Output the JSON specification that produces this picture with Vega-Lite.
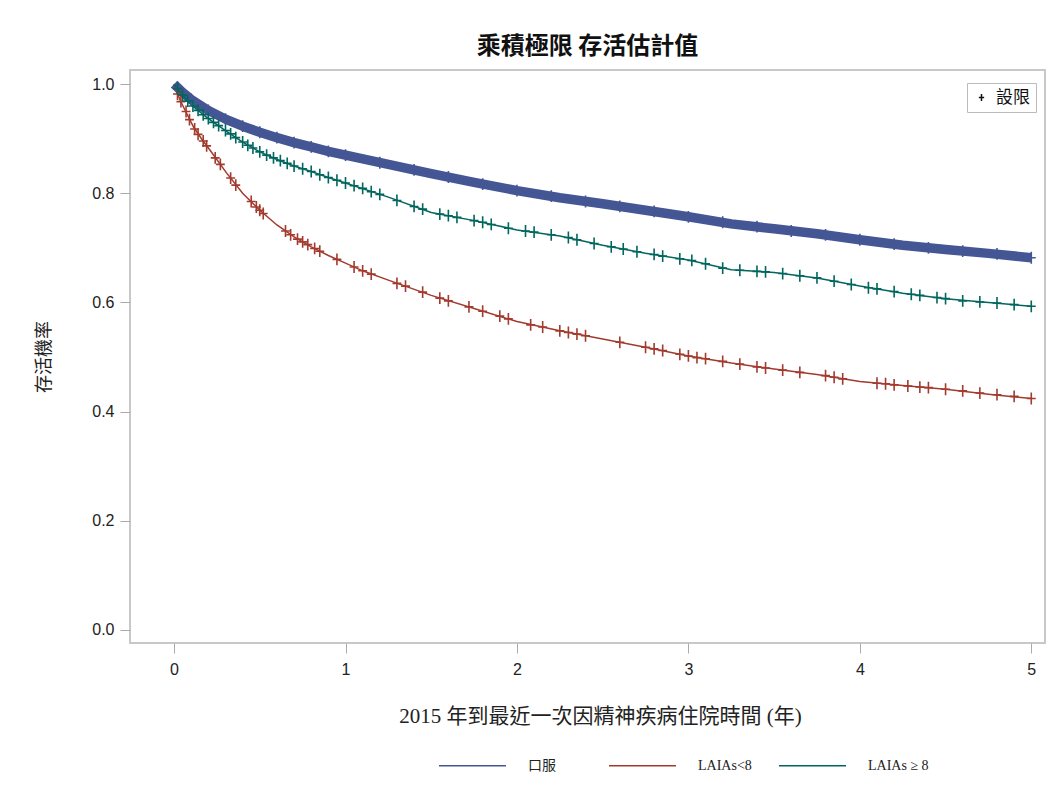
{
  "$schema": "https://vega.github.io/schema/vega-lite/v6.json",
  "width": 915,
  "height": 573,
  "autosize": {"type": "none"},
  "padding": {"left": 130, "top": 70, "right": 11, "bottom": 156},
  "background": "white",
  "config": {
    "view": {"stroke": "#c8c8c8", "strokeWidth": 2},
    "font": "Liberation Sans"
  },
  "title": {
    "text": "乘積極限 存活估計值",
    "font": "Noto Sans CJK TC",
    "fontSize": 24,
    "fontWeight": "bold",
    "color": "#111",
    "offset": 11
  },
  "datasets": {
    "curves": [
      {"group": "口服", "t": 0, "s": 1.0},
      {"group": "口服", "t": 0.05, "s": 0.985},
      {"group": "口服", "t": 0.1, "s": 0.972},
      {"group": "口服", "t": 0.2, "s": 0.952},
      {"group": "口服", "t": 0.3, "s": 0.936},
      {"group": "口服", "t": 0.4, "s": 0.923},
      {"group": "口服", "t": 0.5, "s": 0.912},
      {"group": "口服", "t": 0.6, "s": 0.902},
      {"group": "口服", "t": 0.7, "s": 0.893},
      {"group": "口服", "t": 0.8, "s": 0.885},
      {"group": "口服", "t": 0.9, "s": 0.877},
      {"group": "口服", "t": 1.0, "s": 0.870},
      {"group": "口服", "t": 1.25, "s": 0.853},
      {"group": "口服", "t": 1.5, "s": 0.836},
      {"group": "口服", "t": 1.75, "s": 0.820},
      {"group": "口服", "t": 2.0, "s": 0.805},
      {"group": "口服", "t": 2.25, "s": 0.792},
      {"group": "口服", "t": 2.5, "s": 0.781},
      {"group": "口服", "t": 2.75, "s": 0.769},
      {"group": "口服", "t": 3.0, "s": 0.757},
      {"group": "口服", "t": 3.25, "s": 0.744},
      {"group": "口服", "t": 3.5, "s": 0.735},
      {"group": "口服", "t": 3.75, "s": 0.726},
      {"group": "口服", "t": 4.0, "s": 0.715},
      {"group": "口服", "t": 4.25, "s": 0.705},
      {"group": "口服", "t": 4.5, "s": 0.697},
      {"group": "口服", "t": 4.75, "s": 0.690},
      {"group": "口服", "t": 5.0, "s": 0.682},
      {"group": "LAIAs<8", "t": 0, "s": 1.0},
      {"group": "LAIAs<8", "t": 0.035, "s": 0.971},
      {"group": "LAIAs<8", "t": 0.06, "s": 0.955},
      {"group": "LAIAs<8", "t": 0.113, "s": 0.922},
      {"group": "LAIAs<8", "t": 0.16, "s": 0.900},
      {"group": "LAIAs<8", "t": 0.21, "s": 0.879},
      {"group": "LAIAs<8", "t": 0.307, "s": 0.837},
      {"group": "LAIAs<8", "t": 0.4, "s": 0.800},
      {"group": "LAIAs<8", "t": 0.5, "s": 0.769},
      {"group": "LAIAs<8", "t": 0.6, "s": 0.742},
      {"group": "LAIAs<8", "t": 0.7, "s": 0.720},
      {"group": "LAIAs<8", "t": 0.8, "s": 0.702},
      {"group": "LAIAs<8", "t": 0.9, "s": 0.686},
      {"group": "LAIAs<8", "t": 1.0, "s": 0.672},
      {"group": "LAIAs<8", "t": 1.1, "s": 0.658},
      {"group": "LAIAs<8", "t": 1.25, "s": 0.641},
      {"group": "LAIAs<8", "t": 1.5, "s": 0.613},
      {"group": "LAIAs<8", "t": 1.75, "s": 0.589},
      {"group": "LAIAs<8", "t": 2.0, "s": 0.565},
      {"group": "LAIAs<8", "t": 2.25, "s": 0.548},
      {"group": "LAIAs<8", "t": 2.5, "s": 0.533},
      {"group": "LAIAs<8", "t": 2.75, "s": 0.518},
      {"group": "LAIAs<8", "t": 3.0, "s": 0.502},
      {"group": "LAIAs<8", "t": 3.25, "s": 0.489},
      {"group": "LAIAs<8", "t": 3.5, "s": 0.478},
      {"group": "LAIAs<8", "t": 3.75, "s": 0.468},
      {"group": "LAIAs<8", "t": 4.0, "s": 0.455},
      {"group": "LAIAs<8", "t": 4.25, "s": 0.448},
      {"group": "LAIAs<8", "t": 4.5, "s": 0.441},
      {"group": "LAIAs<8", "t": 4.75, "s": 0.432},
      {"group": "LAIAs<8", "t": 5.0, "s": 0.424},
      {"group": "LAIAs ≥ 8", "t": 0, "s": 1.0},
      {"group": "LAIAs ≥ 8", "t": 0.05, "s": 0.980},
      {"group": "LAIAs ≥ 8", "t": 0.1, "s": 0.962},
      {"group": "LAIAs ≥ 8", "t": 0.2, "s": 0.937},
      {"group": "LAIAs ≥ 8", "t": 0.3, "s": 0.915},
      {"group": "LAIAs ≥ 8", "t": 0.4, "s": 0.894},
      {"group": "LAIAs ≥ 8", "t": 0.5, "s": 0.876},
      {"group": "LAIAs ≥ 8", "t": 0.6, "s": 0.862},
      {"group": "LAIAs ≥ 8", "t": 0.7, "s": 0.850},
      {"group": "LAIAs ≥ 8", "t": 0.8, "s": 0.840},
      {"group": "LAIAs ≥ 8", "t": 0.9, "s": 0.829},
      {"group": "LAIAs ≥ 8", "t": 1.0, "s": 0.819},
      {"group": "LAIAs ≥ 8", "t": 1.25, "s": 0.793},
      {"group": "LAIAs ≥ 8", "t": 1.5, "s": 0.765},
      {"group": "LAIAs ≥ 8", "t": 1.75, "s": 0.750},
      {"group": "LAIAs ≥ 8", "t": 2.0, "s": 0.733},
      {"group": "LAIAs ≥ 8", "t": 2.25, "s": 0.722},
      {"group": "LAIAs ≥ 8", "t": 2.5, "s": 0.705},
      {"group": "LAIAs ≥ 8", "t": 2.75, "s": 0.690},
      {"group": "LAIAs ≥ 8", "t": 3.0, "s": 0.678},
      {"group": "LAIAs ≥ 8", "t": 3.25, "s": 0.660},
      {"group": "LAIAs ≥ 8", "t": 3.5, "s": 0.655},
      {"group": "LAIAs ≥ 8", "t": 3.75, "s": 0.645},
      {"group": "LAIAs ≥ 8", "t": 4.0, "s": 0.630},
      {"group": "LAIAs ≥ 8", "t": 4.25, "s": 0.617},
      {"group": "LAIAs ≥ 8", "t": 4.5, "s": 0.607},
      {"group": "LAIAs ≥ 8", "t": 4.75, "s": 0.600},
      {"group": "LAIAs ≥ 8", "t": 5.0, "s": 0.593}
    ],
    "censor": [
      {"group": "口服", "status": "設限", "t": 0.02, "s": 0.994},
      {"group": "口服", "status": "設限", "t": 0.1, "s": 0.972},
      {"group": "口服", "status": "設限", "t": 0.2, "s": 0.952},
      {"group": "口服", "status": "設限", "t": 0.3, "s": 0.936},
      {"group": "口服", "status": "設限", "t": 0.4, "s": 0.923},
      {"group": "口服", "status": "設限", "t": 0.5, "s": 0.912},
      {"group": "口服", "status": "設限", "t": 0.6, "s": 0.902},
      {"group": "口服", "status": "設限", "t": 0.7, "s": 0.893},
      {"group": "口服", "status": "設限", "t": 0.8, "s": 0.885},
      {"group": "口服", "status": "設限", "t": 0.9, "s": 0.877},
      {"group": "口服", "status": "設限", "t": 1.0, "s": 0.870},
      {"group": "口服", "status": "設限", "t": 1.2, "s": 0.856},
      {"group": "口服", "status": "設限", "t": 1.4, "s": 0.843},
      {"group": "口服", "status": "設限", "t": 1.6, "s": 0.830},
      {"group": "口服", "status": "設限", "t": 1.8, "s": 0.817},
      {"group": "口服", "status": "設限", "t": 2.0, "s": 0.805},
      {"group": "口服", "status": "設限", "t": 2.2, "s": 0.795},
      {"group": "口服", "status": "設限", "t": 2.4, "s": 0.785},
      {"group": "口服", "status": "設限", "t": 2.6, "s": 0.776},
      {"group": "口服", "status": "設限", "t": 2.8, "s": 0.767},
      {"group": "口服", "status": "設限", "t": 3.0, "s": 0.757},
      {"group": "口服", "status": "設限", "t": 3.2, "s": 0.747},
      {"group": "口服", "status": "設限", "t": 3.4, "s": 0.739},
      {"group": "口服", "status": "設限", "t": 3.6, "s": 0.731},
      {"group": "口服", "status": "設限", "t": 3.8, "s": 0.724},
      {"group": "口服", "status": "設限", "t": 4.0, "s": 0.715},
      {"group": "口服", "status": "設限", "t": 4.2, "s": 0.707},
      {"group": "口服", "status": "設限", "t": 4.4, "s": 0.700},
      {"group": "口服", "status": "設限", "t": 4.6, "s": 0.694},
      {"group": "口服", "status": "設限", "t": 4.8, "s": 0.689},
      {"group": "口服", "status": "設限", "t": 5.0, "s": 0.682},
      {"group": "LAIAs<8", "status": "設限", "t": 0.02, "s": 0.982},
      {"group": "LAIAs<8", "status": "設限", "t": 0.04, "s": 0.968},
      {"group": "LAIAs<8", "status": "設限", "t": 0.07, "s": 0.950},
      {"group": "LAIAs<8", "status": "設限", "t": 0.09, "s": 0.935},
      {"group": "LAIAs<8", "status": "設限", "t": 0.12, "s": 0.918},
      {"group": "LAIAs<8", "status": "設限", "t": 0.14, "s": 0.908},
      {"group": "LAIAs<8", "status": "設限", "t": 0.17, "s": 0.896},
      {"group": "LAIAs<8", "status": "設限", "t": 0.19, "s": 0.887},
      {"group": "LAIAs<8", "status": "設限", "t": 0.24, "s": 0.865},
      {"group": "LAIAs<8", "status": "設限", "t": 0.27, "s": 0.853},
      {"group": "LAIAs<8", "status": "設限", "t": 0.33, "s": 0.828},
      {"group": "LAIAs<8", "status": "設限", "t": 0.36, "s": 0.815},
      {"group": "LAIAs<8", "status": "設限", "t": 0.45, "s": 0.785},
      {"group": "LAIAs<8", "status": "設限", "t": 0.48, "s": 0.775},
      {"group": "LAIAs<8", "status": "設限", "t": 0.5, "s": 0.769},
      {"group": "LAIAs<8", "status": "設限", "t": 0.52, "s": 0.763},
      {"group": "LAIAs<8", "status": "設限", "t": 0.65, "s": 0.731},
      {"group": "LAIAs<8", "status": "設限", "t": 0.68, "s": 0.724},
      {"group": "LAIAs<8", "status": "設限", "t": 0.72, "s": 0.716},
      {"group": "LAIAs<8", "status": "設限", "t": 0.75, "s": 0.711},
      {"group": "LAIAs<8", "status": "設限", "t": 0.78, "s": 0.706},
      {"group": "LAIAs<8", "status": "設限", "t": 0.82, "s": 0.699},
      {"group": "LAIAs<8", "status": "設限", "t": 0.85, "s": 0.694},
      {"group": "LAIAs<8", "status": "設限", "t": 0.95, "s": 0.679},
      {"group": "LAIAs<8", "status": "設限", "t": 1.05, "s": 0.665},
      {"group": "LAIAs<8", "status": "設限", "t": 1.1, "s": 0.658},
      {"group": "LAIAs<8", "status": "設限", "t": 1.15, "s": 0.652},
      {"group": "LAIAs<8", "status": "設限", "t": 1.3, "s": 0.635},
      {"group": "LAIAs<8", "status": "設限", "t": 1.35, "s": 0.630},
      {"group": "LAIAs<8", "status": "設限", "t": 1.45, "s": 0.619},
      {"group": "LAIAs<8", "status": "設限", "t": 1.55, "s": 0.608},
      {"group": "LAIAs<8", "status": "設限", "t": 1.6, "s": 0.603},
      {"group": "LAIAs<8", "status": "設限", "t": 1.72, "s": 0.592},
      {"group": "LAIAs<8", "status": "設限", "t": 1.8, "s": 0.584},
      {"group": "LAIAs<8", "status": "設限", "t": 1.9, "s": 0.575},
      {"group": "LAIAs<8", "status": "設限", "t": 1.95, "s": 0.570},
      {"group": "LAIAs<8", "status": "設限", "t": 2.08, "s": 0.559},
      {"group": "LAIAs<8", "status": "設限", "t": 2.15, "s": 0.555},
      {"group": "LAIAs<8", "status": "設限", "t": 2.25, "s": 0.548},
      {"group": "LAIAs<8", "status": "設限", "t": 2.3, "s": 0.545},
      {"group": "LAIAs<8", "status": "設限", "t": 2.35, "s": 0.542},
      {"group": "LAIAs<8", "status": "設限", "t": 2.4, "s": 0.539},
      {"group": "LAIAs<8", "status": "設限", "t": 2.6, "s": 0.527},
      {"group": "LAIAs<8", "status": "設限", "t": 2.75, "s": 0.518},
      {"group": "LAIAs<8", "status": "設限", "t": 2.8, "s": 0.515},
      {"group": "LAIAs<8", "status": "設限", "t": 2.85, "s": 0.512},
      {"group": "LAIAs<8", "status": "設限", "t": 2.95, "s": 0.505},
      {"group": "LAIAs<8", "status": "設限", "t": 3.0, "s": 0.502},
      {"group": "LAIAs<8", "status": "設限", "t": 3.05, "s": 0.499},
      {"group": "LAIAs<8", "status": "設限", "t": 3.1, "s": 0.497},
      {"group": "LAIAs<8", "status": "設限", "t": 3.2, "s": 0.492},
      {"group": "LAIAs<8", "status": "設限", "t": 3.3, "s": 0.487},
      {"group": "LAIAs<8", "status": "設限", "t": 3.4, "s": 0.482},
      {"group": "LAIAs<8", "status": "設限", "t": 3.45, "s": 0.480},
      {"group": "LAIAs<8", "status": "設限", "t": 3.55, "s": 0.476},
      {"group": "LAIAs<8", "status": "設限", "t": 3.65, "s": 0.472},
      {"group": "LAIAs<8", "status": "設限", "t": 3.8, "s": 0.466},
      {"group": "LAIAs<8", "status": "設限", "t": 3.85, "s": 0.463},
      {"group": "LAIAs<8", "status": "設限", "t": 3.9, "s": 0.460},
      {"group": "LAIAs<8", "status": "設限", "t": 4.1, "s": 0.452},
      {"group": "LAIAs<8", "status": "設限", "t": 4.15, "s": 0.451},
      {"group": "LAIAs<8", "status": "設限", "t": 4.2, "s": 0.449},
      {"group": "LAIAs<8", "status": "設限", "t": 4.28, "s": 0.447},
      {"group": "LAIAs<8", "status": "設限", "t": 4.35, "s": 0.445},
      {"group": "LAIAs<8", "status": "設限", "t": 4.4, "s": 0.444},
      {"group": "LAIAs<8", "status": "設限", "t": 4.5, "s": 0.441},
      {"group": "LAIAs<8", "status": "設限", "t": 4.6, "s": 0.438},
      {"group": "LAIAs<8", "status": "設限", "t": 4.7, "s": 0.434},
      {"group": "LAIAs<8", "status": "設限", "t": 4.8, "s": 0.431},
      {"group": "LAIAs<8", "status": "設限", "t": 4.9, "s": 0.428},
      {"group": "LAIAs<8", "status": "設限", "t": 5.0, "s": 0.424},
      {"group": "LAIAs ≥ 8", "status": "設限", "t": 0.02, "s": 0.992},
      {"group": "LAIAs ≥ 8", "status": "設限", "t": 0.05, "s": 0.980},
      {"group": "LAIAs ≥ 8", "status": "設限", "t": 0.08, "s": 0.969},
      {"group": "LAIAs ≥ 8", "status": "設限", "t": 0.11, "s": 0.960},
      {"group": "LAIAs ≥ 8", "status": "設限", "t": 0.14, "s": 0.952},
      {"group": "LAIAs ≥ 8", "status": "設限", "t": 0.17, "s": 0.944},
      {"group": "LAIAs ≥ 8", "status": "設限", "t": 0.2, "s": 0.937},
      {"group": "LAIAs ≥ 8", "status": "設限", "t": 0.23, "s": 0.930},
      {"group": "LAIAs ≥ 8", "status": "設限", "t": 0.26, "s": 0.924},
      {"group": "LAIAs ≥ 8", "status": "設限", "t": 0.3, "s": 0.915},
      {"group": "LAIAs ≥ 8", "status": "設限", "t": 0.33, "s": 0.909},
      {"group": "LAIAs ≥ 8", "status": "設限", "t": 0.36, "s": 0.902},
      {"group": "LAIAs ≥ 8", "status": "設限", "t": 0.4, "s": 0.894},
      {"group": "LAIAs ≥ 8", "status": "設限", "t": 0.43, "s": 0.888},
      {"group": "LAIAs ≥ 8", "status": "設限", "t": 0.46, "s": 0.883},
      {"group": "LAIAs ≥ 8", "status": "設限", "t": 0.5, "s": 0.876},
      {"group": "LAIAs ≥ 8", "status": "設限", "t": 0.54, "s": 0.870},
      {"group": "LAIAs ≥ 8", "status": "設限", "t": 0.58, "s": 0.865},
      {"group": "LAIAs ≥ 8", "status": "設限", "t": 0.62, "s": 0.860},
      {"group": "LAIAs ≥ 8", "status": "設限", "t": 0.66, "s": 0.855},
      {"group": "LAIAs ≥ 8", "status": "設限", "t": 0.7, "s": 0.850},
      {"group": "LAIAs ≥ 8", "status": "設限", "t": 0.75, "s": 0.845},
      {"group": "LAIAs ≥ 8", "status": "設限", "t": 0.8, "s": 0.840},
      {"group": "LAIAs ≥ 8", "status": "設限", "t": 0.85, "s": 0.834},
      {"group": "LAIAs ≥ 8", "status": "設限", "t": 0.9, "s": 0.829},
      {"group": "LAIAs ≥ 8", "status": "設限", "t": 0.95, "s": 0.824},
      {"group": "LAIAs ≥ 8", "status": "設限", "t": 1.0, "s": 0.819},
      {"group": "LAIAs ≥ 8", "status": "設限", "t": 1.05, "s": 0.814},
      {"group": "LAIAs ≥ 8", "status": "設限", "t": 1.1, "s": 0.809},
      {"group": "LAIAs ≥ 8", "status": "設限", "t": 1.15, "s": 0.803},
      {"group": "LAIAs ≥ 8", "status": "設限", "t": 1.2, "s": 0.798},
      {"group": "LAIAs ≥ 8", "status": "設限", "t": 1.3, "s": 0.787},
      {"group": "LAIAs ≥ 8", "status": "設限", "t": 1.4, "s": 0.776},
      {"group": "LAIAs ≥ 8", "status": "設限", "t": 1.45, "s": 0.771},
      {"group": "LAIAs ≥ 8", "status": "設限", "t": 1.55, "s": 0.762},
      {"group": "LAIAs ≥ 8", "status": "設限", "t": 1.6, "s": 0.759},
      {"group": "LAIAs ≥ 8", "status": "設限", "t": 1.65, "s": 0.756},
      {"group": "LAIAs ≥ 8", "status": "設限", "t": 1.75, "s": 0.750},
      {"group": "LAIAs ≥ 8", "status": "設限", "t": 1.8, "s": 0.747},
      {"group": "LAIAs ≥ 8", "status": "設限", "t": 1.85, "s": 0.743},
      {"group": "LAIAs ≥ 8", "status": "設限", "t": 1.95, "s": 0.736},
      {"group": "LAIAs ≥ 8", "status": "設限", "t": 2.05, "s": 0.731},
      {"group": "LAIAs ≥ 8", "status": "設限", "t": 2.1, "s": 0.729},
      {"group": "LAIAs ≥ 8", "status": "設限", "t": 2.2, "s": 0.724},
      {"group": "LAIAs ≥ 8", "status": "設限", "t": 2.3, "s": 0.719},
      {"group": "LAIAs ≥ 8", "status": "設限", "t": 2.35, "s": 0.715},
      {"group": "LAIAs ≥ 8", "status": "設限", "t": 2.45, "s": 0.708},
      {"group": "LAIAs ≥ 8", "status": "設限", "t": 2.55, "s": 0.702},
      {"group": "LAIAs ≥ 8", "status": "設限", "t": 2.62, "s": 0.698},
      {"group": "LAIAs ≥ 8", "status": "設限", "t": 2.7, "s": 0.693},
      {"group": "LAIAs ≥ 8", "status": "設限", "t": 2.8, "s": 0.688},
      {"group": "LAIAs ≥ 8", "status": "設限", "t": 2.85, "s": 0.685},
      {"group": "LAIAs ≥ 8", "status": "設限", "t": 2.95, "s": 0.680},
      {"group": "LAIAs ≥ 8", "status": "設限", "t": 3.02, "s": 0.677},
      {"group": "LAIAs ≥ 8", "status": "設限", "t": 3.1, "s": 0.671},
      {"group": "LAIAs ≥ 8", "status": "設限", "t": 3.2, "s": 0.663},
      {"group": "LAIAs ≥ 8", "status": "設限", "t": 3.3, "s": 0.659},
      {"group": "LAIAs ≥ 8", "status": "設限", "t": 3.4, "s": 0.657},
      {"group": "LAIAs ≥ 8", "status": "設限", "t": 3.45, "s": 0.656},
      {"group": "LAIAs ≥ 8", "status": "設限", "t": 3.55, "s": 0.653},
      {"group": "LAIAs ≥ 8", "status": "設限", "t": 3.65, "s": 0.649},
      {"group": "LAIAs ≥ 8", "status": "設限", "t": 3.75, "s": 0.645},
      {"group": "LAIAs ≥ 8", "status": "設限", "t": 3.85, "s": 0.639},
      {"group": "LAIAs ≥ 8", "status": "設限", "t": 3.95, "s": 0.633},
      {"group": "LAIAs ≥ 8", "status": "設限", "t": 4.05, "s": 0.627},
      {"group": "LAIAs ≥ 8", "status": "設限", "t": 4.1, "s": 0.625},
      {"group": "LAIAs ≥ 8", "status": "設限", "t": 4.2, "s": 0.620},
      {"group": "LAIAs ≥ 8", "status": "設限", "t": 4.3, "s": 0.615},
      {"group": "LAIAs ≥ 8", "status": "設限", "t": 4.35, "s": 0.613},
      {"group": "LAIAs ≥ 8", "status": "設限", "t": 4.45, "s": 0.609},
      {"group": "LAIAs ≥ 8", "status": "設限", "t": 4.5, "s": 0.607},
      {"group": "LAIAs ≥ 8", "status": "設限", "t": 4.6, "s": 0.603},
      {"group": "LAIAs ≥ 8", "status": "設限", "t": 4.7, "s": 0.601},
      {"group": "LAIAs ≥ 8", "status": "設限", "t": 4.8, "s": 0.599},
      {"group": "LAIAs ≥ 8", "status": "設限", "t": 4.9, "s": 0.596},
      {"group": "LAIAs ≥ 8", "status": "設限", "t": 5.0, "s": 0.593}
    ]
  },
  "encoding": {
    "x": {
      "field": "t",
      "type": "quantitative",
      "scale": {"domain": [-0.257, 5.08], "nice": false, "zero": false},
      "axis": {
        "title": "2015 年到最近一次因精神疾病住院時間 (年)",
        "titleFont": "Liberation Serif, Noto Sans CJK TC",
        "titleFontSize": 21,
        "titleFontWeight": "normal",
        "titleColor": "#222",
        "titlePadding": 28,
        "titleX": 470,
        "titleAlign": "center",
        "values": [0, 1, 2, 3, 4, 5],
        "format": "d",
        "labelFont": "Liberation Sans",
        "labelFontSize": 16,
        "labelColor": "#222",
        "labelPadding": 8,
        "tickSize": 10,
        "tickColor": "#aaa",
        "domain": false,
        "grid": false
      }
    },
    "y": {
      "field": "s",
      "type": "quantitative",
      "scale": {"domain": [-0.024, 1.026], "nice": false, "zero": false},
      "axis": {
        "title": "存活機率",
        "titleFont": "Noto Sans CJK TC",
        "titleFontSize": 18,
        "titleFontWeight": "normal",
        "titleColor": "#222",
        "titlePadding": 38,
        "values": [0, 0.2, 0.4, 0.6, 0.8, 1.0],
        "format": ".1f",
        "labelFont": "Liberation Sans",
        "labelFontSize": 16,
        "labelColor": "#222",
        "labelPadding": 6,
        "tickSize": 10,
        "tickColor": "#aaa",
        "domain": false,
        "grid": false
      }
    },
    "color": {
      "field": "group",
      "type": "nominal",
      "scale": {
        "domain": ["口服", "LAIAs<8", "LAIAs ≥ 8"],
        "range": ["#445694", "#A23A2E", "#01665E"]
      },
      "legend": {
        "title": null,
        "orient": "none",
        "legendX": 308,
        "legendY": 661,
        "direction": "horizontal",
        "columns": 3,
        "gridAlign": "all",
        "columnPadding": 17,
        "symbolType": "stroke",
        "symbolSize": 4489,
        "symbolStrokeWidth": 1.5,
        "labelFont": "Liberation Serif, Noto Sans CJK TC",
        "labelFontSize": 14,
        "labelColor": "#222",
        "labelOffset": 21
      }
    }
  },
  "layer": [
    {
      "data": {"name": "curves"},
      "transform": [{"filter": "datum.group === '口服'"}],
      "mark": {"type": "line", "strokeWidth": 9.5, "strokeCap": "butt", "strokeJoin": "round"}
    },
    {
      "data": {"name": "curves"},
      "mark": {"type": "line", "strokeWidth": 1.5}
    },
    {
      "data": {"name": "censor"},
      "mark": {"type": "point", "filled": false, "strokeWidth": 1.6, "size": 140, "opacity": 1},
      "encoding": {
        "shape": {
          "field": "status",
          "type": "nominal",
          "scale": {"domain": ["設限"], "range": ["M-0.75,0L0.75,0M0,-1L0,1"]},
          "legend": {
            "title": null,
            "orient": "none",
            "legendX": 837,
            "legendY": 13,
            "strokeColor": "#bbb",
            "padding": 6,
            "symbolType": "M-1,0L1,0M0,-1L0,1",
            "symbolSize": 50,
            "symbolStrokeColor": "#111",
            "symbolStrokeWidth": 1.5,
            "symbolFillColor": "transparent",
            "labelFont": "Noto Sans CJK TC",
            "labelFontSize": 17,
            "labelColor": "#111",
            "labelOffset": 6
          }
        }
      }
    }
  ]
}
